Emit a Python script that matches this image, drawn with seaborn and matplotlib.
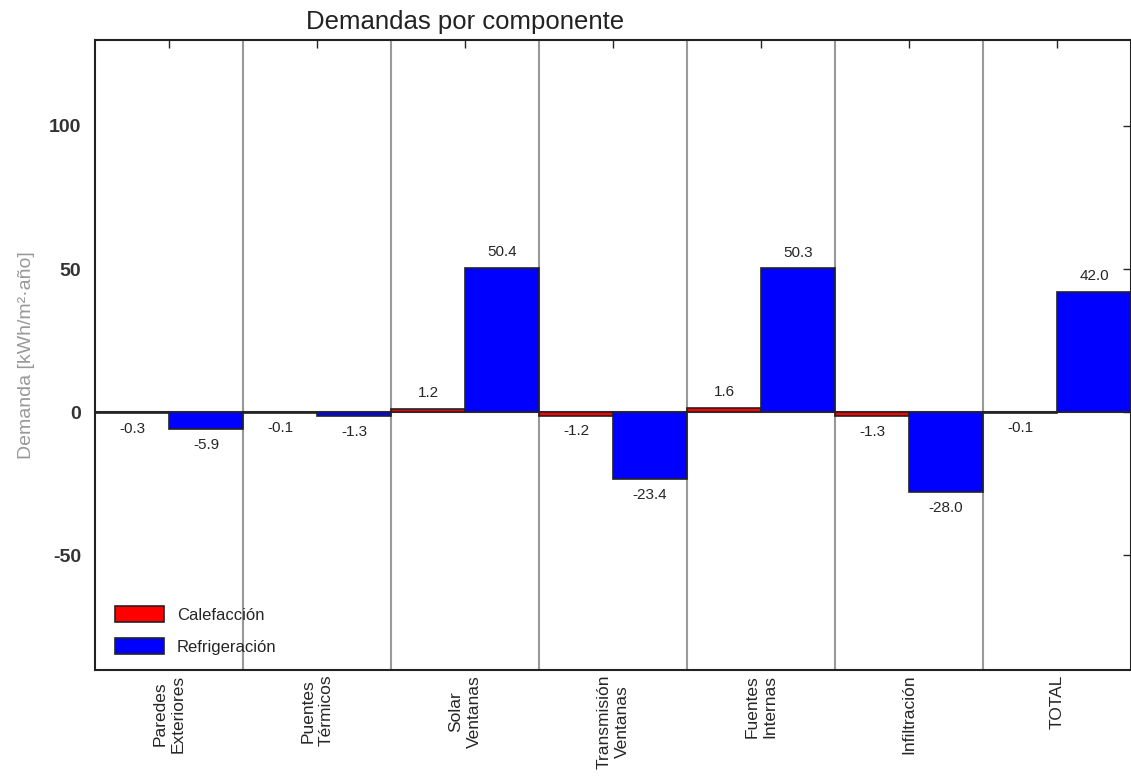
import numpy as np
import pandas as pd
import seaborn as sns
import matplotlib.pyplot as plt

# data
componentes = ['Paredes\nExteriores', 'Puentes\nTérmicos', 'Solar\nVentanas',
               'Transmisión\nVentanas', 'Fuentes\nInternas', 'Infiltración', 'TOTAL']
calefaccion = [-0.3, -0.1, 1.2, -1.2, 1.6, -1.3, -0.1]
refrigeracion = [-5.9, -1.3, 50.4, -23.4, 50.3, -28.0, 42.0]

data = pd.DataFrame({
    'componente': componentes * 2,
    'valor': calefaccion + refrigeracion,
    'tipo': ['Calefacción'] * len(componentes) + ['Refrigeración'] * len(componentes),
})

sns.set_style('white')
plt.rcParams['font.family'] = ['Liberation Sans', 'DejaVu Sans']

fig = plt.figure(figsize=(11.31, 7.83), dpi=100)
ax = fig.add_axes([0.084, 0.1443, 0.916, 0.8046])

sns.barplot(data=data, x='componente', y='valor', hue='tipo',
            palette=['#ff0000', '#0000ff'], saturation=1, width=1.0,
            edgecolor='#222222', linewidth=1.2, ax=ax)

# separators between groups
for b in np.arange(0.5, len(componentes) - 0.5, 1):
    ax.axvline(b, color='#999999', lw=1.5, zorder=0)
ax.axhline(0, color='#555555', lw=1.5, zorder=0.5)

# value labels
for cont in ax.containers:
    for bar in cont:
        h = bar.get_height()
        xc = bar.get_x() + bar.get_width() / 2
        if h >= 0:
            ax.text(xc, h + 3, f'{h:.1f}', ha='center', va='bottom', fontsize=11)
        else:
            ax.text(xc, h - 3, f'{h:.1f}', ha='center', va='top', fontsize=11)

ax.set_xlim(-0.5, len(componentes) - 0.5)
ax.set_ylim(-90, 130)
ax.set_yticks([-50, 0, 50, 100])
ax.set_yticklabels(['-50', '0', '50', '100'],
                   fontsize=14, fontweight='bold', color='#333333')
ax.set_xticks(range(len(componentes)))
ax.set_xticklabels(componentes, rotation=90, fontsize=12.5, ha='center', va='top',
                   multialignment='center', linespacing=1.3)
ax.tick_params(direction='in', top=True, right=True, length=6, width=1)
ax.tick_params(axis='y', pad=10)
ax.set_xlabel('')
ax.set_ylabel('Demanda [kWh/m²·año]', fontsize=14, color='#999999', labelpad=10)

for s in ax.spines.values():
    s.set_color('#222222')
    s.set_linewidth(1.5)

ax.legend(loc='lower left', bbox_to_anchor=(0.005, 0.0), frameon=False,
          fontsize=12, handlelength=2.9, handleheight=1.1, labelspacing=0.95)

fig.text(465 / 1131, 1 - 22 / 783, 'Demandas por componente', ha='center',
         va='center', fontsize=18.5, color='#222222')

fig.savefig('out.png', dpi=100)
